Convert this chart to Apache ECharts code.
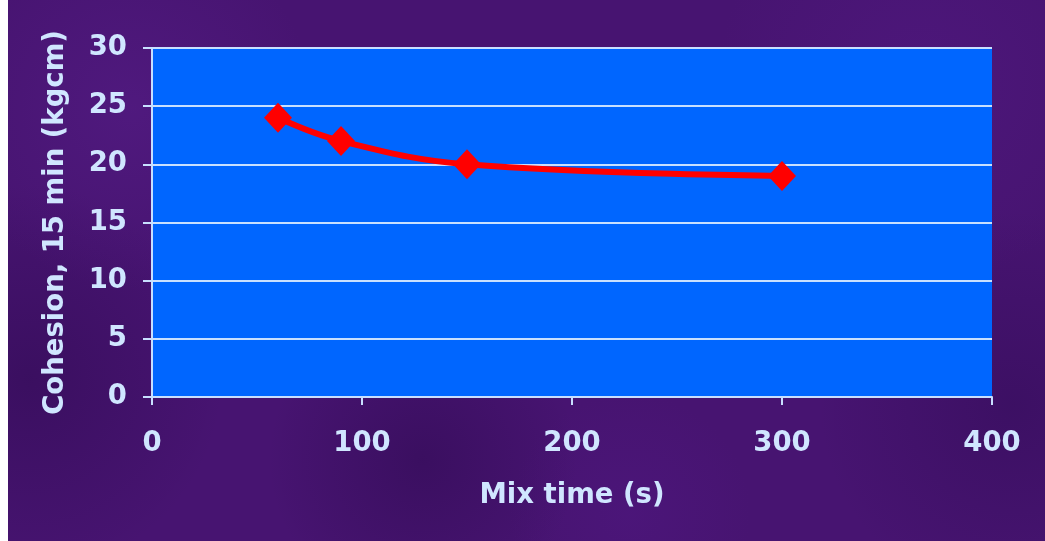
<!DOCTYPE html>
<html>
<head>
<meta charset="utf-8">
<script src="https://cdn.jsdelivr.net/npm/echarts@6/dist/echarts.min.js"></script>
<style>
html,body{margin:0;padding:0;background:#fff;width:1045px;height:541px;overflow:hidden;}
#bg{position:absolute;left:8px;top:0;width:1037px;height:541px;
background-color:#471471;
background-image:
 radial-gradient(circle at 12% 20%, rgba(95,35,150,0.35), rgba(0,0,0,0) 18%),
 radial-gradient(circle at 40% 85%, rgba(35,5,65,0.35), rgba(0,0,0,0) 20%),
 radial-gradient(circle at 88% 15%, rgba(90,30,145,0.3), rgba(0,0,0,0) 20%),
 radial-gradient(circle at 60% 95%, rgba(85,25,140,0.3), rgba(0,0,0,0) 15%),
 radial-gradient(circle at 2% 70%, rgba(35,5,65,0.35), rgba(0,0,0,0) 18%),
 radial-gradient(circle at 97% 75%, rgba(40,8,75,0.35), rgba(0,0,0,0) 18%);}
#chart{position:absolute;left:8px;top:0;width:1037px;height:541px;}
</style>
</head>
<body>
<div id="bg"></div>
<div id="chart"></div>
<script>
const mixTime = [60, 90, 150, 300];
const cohesion = [24, 22, 20, 19];
const xTitle = 'Mix time (s)';
const yTitle = 'Cohesion, 15 min (kgcm)';

const chart = echarts.init(document.getElementById('chart'));
const lab = {color:'#d0e6ff', fontFamily:'DejaVu Sans', fontWeight:'bold', fontSize:27.5};
const axisCol = '#c8e0ff';
chart.setOption({
  backgroundColor:'transparent',
  animation:false,
  grid:{left:144, right:53, top:48, bottom:144, show:true, backgroundColor:'#0066ff', borderWidth:0},
  xAxis:{type:'value', min:0, max:400, interval:100,
    name:xTitle, nameLocation:'middle', nameGap:85,
    nameTextStyle:Object.assign({}, lab),
    axisLine:{show:true, lineStyle:{color:axisCol, width:2}},
    axisTick:{show:true, inside:false, length:8, lineStyle:{color:axisCol, width:2}},
    axisLabel:Object.assign({margin:33}, lab),
    splitLine:{show:false}},
  yAxis:{type:'value', min:0, max:30, interval:5,
    name:yTitle, nameLocation:'middle', nameGap:82, nameRotate:90,
    nameTextStyle:Object.assign({}, lab),
    axisLine:{show:true, lineStyle:{color:axisCol, width:2}},
    axisTick:{show:true, inside:false, length:9, lineStyle:{color:axisCol, width:2}},
    axisLabel:Object.assign({margin:25}, lab),
    splitLine:{show:true, lineStyle:{color:axisCol, width:2}}},
  series:[{type:'line', smooth:0.4,
    data:mixTime.map((x,i)=>[x, cohesion[i]]),
    symbol:'diamond', symbolSize:[28,30],
    lineStyle:{color:'#ff0000', width:6},
    itemStyle:{color:'#ff0000'}}]
});
</script>
</body>
</html>
